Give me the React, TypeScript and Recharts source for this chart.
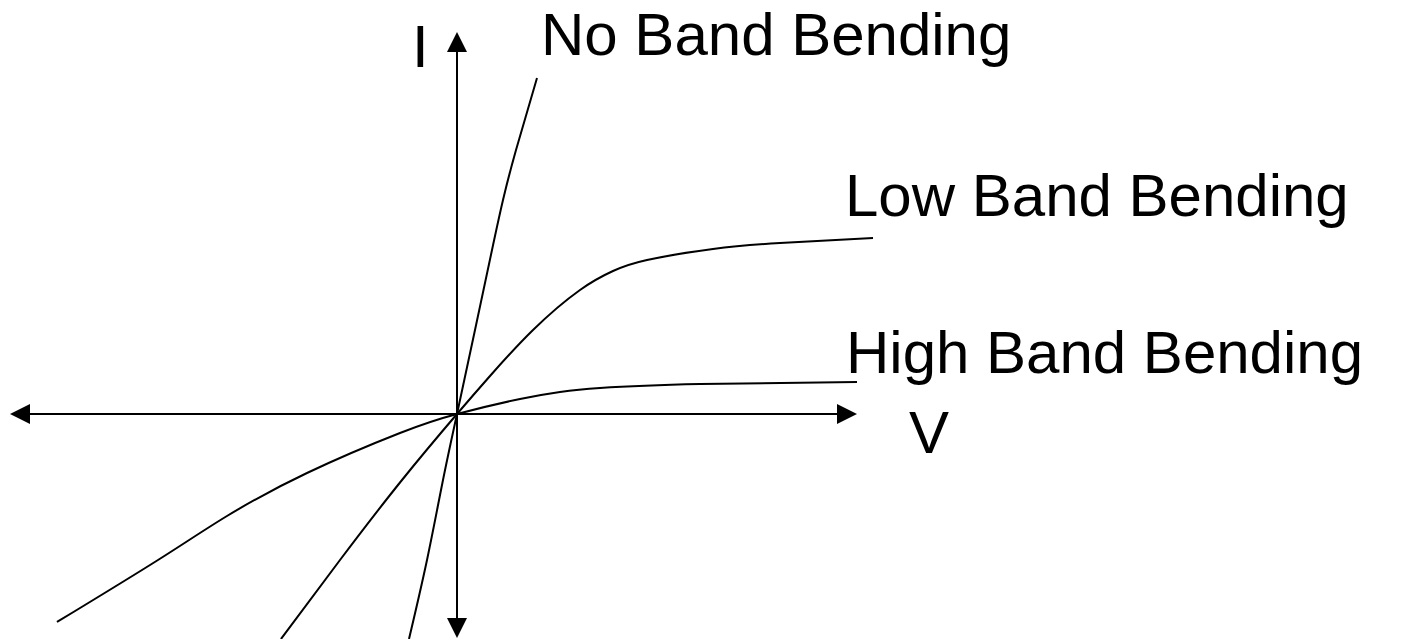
import React from "react";
import {
  ComposedChart,
  Line,
  XAxis,
  YAxis,
  ReferenceLine,
  ReferenceDot,
} from "recharts";

// V / I in arbitrary units
const noBending = [
  { v: -0.48, i: -2.25 },
  { v: -0.3, i: -1.46 },
  { v: -0.14, i: -0.66 },
  { v: 0, i: 0 },
  { v: 0.18, i: 0.84 },
  { v: 0.35, i: 1.64 },
  { v: 0.46, i: 2.14 },
  { v: 0.59, i: 2.64 },
  { v: 0.8, i: 3.36 },
];

const lowBending = [
  { v: -1.76, i: -2.25 },
  { v: -1.17, i: -1.46 },
  { v: -0.55, i: -0.66 },
  { v: 0, i: 0 },
  { v: 0.33, i: 0.38 },
  { v: 0.76, i: 0.84 },
  { v: 1.23, i: 1.24 },
  { v: 1.56, i: 1.43 },
  { v: 1.9, i: 1.54 },
  { v: 2.56, i: 1.65 },
  { v: 3.23, i: 1.71 },
  { v: 4.16, i: 1.76 },
];

const highBending = [
  { v: -4.0, i: -2.08 },
  { v: -2.99, i: -1.46 },
  { v: -2.3, i: -1.02 },
  { v: -1.5, i: -0.59 },
  { v: -0.57, i: -0.19 },
  { v: 0, i: 0 },
  { v: 0.63, i: 0.15 },
  { v: 1.03, i: 0.22 },
  { v: 1.43, i: 0.26 },
  { v: 2.43, i: 0.3 },
  { v: 4.0, i: 0.32 },
];

// axis extents
const vAxis = { min: -4.47, max: 4.0 };
const iAxis = { min: -2.24, max: 3.82 };

// text labels: [text, v, i]
const labels: [string, number, number][] = [
  ["I", -0.45, 3.47],
  ["No Band Bending", 0.84, 3.59],
  ["Low Band Bending", 3.88, 1.98],
  ["High Band Bending", 3.89, 0.41],
  ["V", 4.52, -0.39],
];

const FONT = "'Liberation Sans', Arial, sans-serif";

const arrow = (dir: "left" | "right" | "up" | "down") => (p: any) => {
  const { cx, cy } = p;
  if (cx == null || cy == null) return null;
  let pts = "";
  if (dir === "left") pts = `${cx},${cy} ${cx + 20},${cy - 10} ${cx + 20},${cy + 10}`;
  if (dir === "right") pts = `${cx},${cy} ${cx - 20},${cy - 10} ${cx - 20},${cy + 10}`;
  if (dir === "up") pts = `${cx},${cy} ${cx - 10},${cy + 20} ${cx + 10},${cy + 20}`;
  if (dir === "down") pts = `${cx},${cy} ${cx - 10},${cy - 20} ${cx + 10},${cy - 20}`;
  return <polygon points={pts} fill="#000" />;
};

const textShape = (t: string) => (p: any) => {
  const { cx, cy } = p;
  if (cx == null || cy == null) return null;
  return (
    <text x={cx} y={cy} fontSize={60} fontFamily={FONT} fill="#000">
      {t}
    </text>
  );
};

export default function App() {
  return (
    <div style={{ position: "absolute", left: 0, top: 0, background: "#fff" }}>
      <ComposedChart
        width={1407}
        height={639}
        margin={{ top: 0, right: 0, bottom: 0, left: 0 }}
      >
        <XAxis
          type="number"
          dataKey="v"
          domain={[-4.57, 9.5]}
          allowDataOverflow
          hide
        />
        <YAxis
          type="number"
          dataKey="i"
          domain={[-2.25, 4.14]}
          allowDataOverflow
          hide
        />
        <ReferenceLine
          segment={[
            { x: vAxis.min + 0.1, y: 0 },
            { x: vAxis.max - 0.1, y: 0 },
          ]}
          stroke="#000"
          strokeWidth={2}
        />
        <ReferenceLine
          segment={[
            { x: 0, y: iAxis.min + 0.1 },
            { x: 0, y: iAxis.max - 0.1 },
          ]}
          stroke="#000"
          strokeWidth={2}
        />
        <ReferenceDot x={vAxis.min} y={0} shape={arrow("left")} />
        <ReferenceDot x={vAxis.max} y={0} shape={arrow("right")} />
        <ReferenceDot x={0} y={iAxis.max} shape={arrow("up")} />
        <ReferenceDot x={0} y={iAxis.min} shape={arrow("down")} />
        <Line
          data={noBending}
          dataKey="i"
          type="natural"
          stroke="#000"
          strokeWidth={2}
          dot={false}
          activeDot={false}
          isAnimationActive={false}
        />
        <Line
          data={lowBending}
          dataKey="i"
          type="natural"
          stroke="#000"
          strokeWidth={2}
          dot={false}
          activeDot={false}
          isAnimationActive={false}
        />
        <Line
          data={highBending}
          dataKey="i"
          type="natural"
          stroke="#000"
          strokeWidth={2}
          dot={false}
          activeDot={false}
          isAnimationActive={false}
        />
        {labels.map(([t, v, i]) => (
          <ReferenceDot key={t} x={v} y={i} shape={textShape(t)} />
        ))}
      </ComposedChart>
    </div>
  );
}
